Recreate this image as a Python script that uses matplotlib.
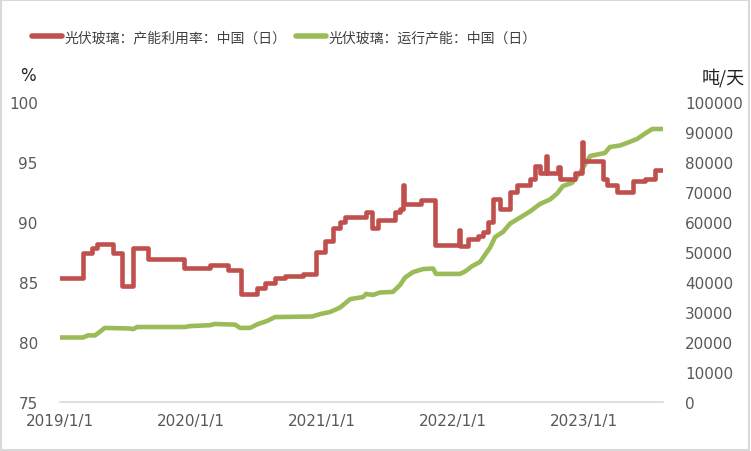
import matplotlib
matplotlib.use("Agg")
import matplotlib.pyplot as plt
import pandas as pd

plt.rcParams['font.family'] = ['DejaVu Sans', 'Noto Sans CJK SC']

# 光伏玻璃：产能利用率（%），阶梯数据
util_dates = ["2019-01-01", "2019-03-06", "2019-03-31", "2019-04-14", "2019-05-29",
              "2019-06-23", "2019-07-24", "2019-09-03", "2019-12-13", "2020-02-23",
              "2020-04-13", "2020-05-20", "2020-07-03", "2020-07-26", "2020-08-22",
              "2020-09-19", "2020-11-09", "2020-12-15", "2021-01-09", "2021-01-31",
              "2021-02-20", "2021-03-06", "2021-05-03", "2021-05-20", "2021-06-06",
              "2021-07-23", "2021-08-06", "2021-08-14", "2021-08-17", "2021-10-03",
              "2021-11-12", "2022-01-17", "2022-01-20", "2022-02-12", "2022-03-11",
              "2022-03-25", "2022-04-08", "2022-04-22", "2022-05-12", "2022-06-09",
              "2022-06-28", "2022-08-03", "2022-08-17", "2022-08-31", "2022-09-17",
              "2022-09-20", "2022-10-20", "2022-10-26", "2022-12-07", "2022-12-26",
              "2022-12-29", "2023-02-23", "2023-03-06", "2023-04-03", "2023-05-18",
              "2023-06-20", "2023-07-18", "2023-08-09"]
util_vals = [85.3, 87.4, 87.8, 88.2, 87.4,
             84.7, 87.8, 86.9, 86.2, 86.4,
             86.0, 84.0, 84.5, 84.9, 85.3,
             85.5, 85.7, 87.5, 88.4, 89.5,
             90.0, 90.4, 90.8, 89.5, 90.2,
             90.8, 91.1, 93.1, 91.5, 91.8,
             88.1, 89.3, 88.0, 88.6, 88.8,
             89.2, 90.0, 91.9, 91.1, 92.5,
             93.1, 93.6, 94.7, 94.1, 95.5,
             94.1, 94.6, 93.6, 94.1, 96.7,
             95.1, 93.6, 93.1, 92.5, 93.4,
             93.6, 94.3, 94.3]

# 光伏玻璃：运行产能（吨/天）
cap_dates = ["2019-01-01", "2019-03-06", "2019-03-20", "2019-04-09", "2019-04-23",
             "2019-05-06", "2019-07-15", "2019-07-24", "2019-08-04", "2019-12-16",
             "2019-12-29", "2020-02-23", "2020-03-08", "2020-05-03", "2020-05-17",
             "2020-06-14", "2020-07-06", "2020-07-31", "2020-08-22", "2020-12-04",
             "2020-12-26", "2021-01-23", "2021-02-20", "2021-03-20", "2021-04-25",
             "2021-05-03", "2021-05-23", "2021-06-11", "2021-07-17", "2021-08-06",
             "2021-08-20", "2021-09-11", "2021-10-09", "2021-11-06", "2021-11-14",
             "2022-01-20", "2022-02-03", "2022-02-23", "2022-03-17", "2022-04-14",
             "2022-04-28", "2022-05-20", "2022-06-09", "2022-07-07", "2022-08-03",
             "2022-08-31", "2022-09-28", "2022-10-18", "2022-11-03", "2022-11-28",
             "2022-12-21", "2023-01-18", "2023-02-15", "2023-02-28", "2023-03-14",
             "2023-04-11", "2023-05-04", "2023-05-29", "2023-06-20", "2023-07-10",
             "2023-08-09"]
cap_vals = [21500, 21500, 22200, 22200, 23500,
            24700, 24500, 24300, 25000, 25000,
            25300, 25600, 26000, 25800, 24700,
            24700, 26000, 27000, 28300, 28500,
            29300, 30000, 31500, 34300, 35000,
            36000, 35700, 36500, 36700, 39000,
            41500, 43300, 44300, 44500, 42700,
            42700, 43500, 45300, 46700, 51500,
            55000, 56700, 59500, 61500, 63500,
            66000, 67500, 69500, 72000, 73000,
            76500, 82000, 82700, 83000, 85000,
            85500, 86500, 87700, 89500, 91000,
            91000]

xtick_labels = ["2019/1/1", "2020/1/1", "2021/1/1", "2022/1/1", "2023/1/1"]

red = "#C0504D"
green = "#9BBB59"
grey = "#595959"
cjk = ["Noto Sans CJK SC", "DejaVu Sans"]

fig = plt.figure(figsize=(7.51, 4.52), dpi=100)
ax = fig.add_axes([60 / 751, 1 - 403 / 452, 603 / 751, 300 / 452])
ax2 = ax.twinx()

ud = pd.to_datetime(util_dates)
cd = pd.to_datetime(cap_dates)

l1, = ax.plot(ud, util_vals, color=red, lw=3.3, drawstyle="steps-post", zorder=3)
l2, = ax2.plot(cd, cap_vals, color=green, lw=3.3, zorder=2)
ax.set_zorder(ax2.get_zorder() + 1)
ax.patch.set_visible(False)

ax.set_ylim(75, 100)
ax.set_yticks(range(75, 101, 5))
ax2.set_ylim(0, 100000)
ax2.set_yticks(range(0, 100001, 10000))
ax.set_xlim(ud[0], ud[-1])
ax.set_xticks(pd.to_datetime([s.replace("/", "-") for s in xtick_labels]))
ax.set_xticklabels(xtick_labels)

for a in (ax, ax2):
    for s in a.spines.values():
        s.set_visible(False)
    a.tick_params(length=0, labelsize=11, colors=grey)
ax.spines["bottom"].set_visible(True)
ax.spines["bottom"].set_color("#D9D9D9")
ax.spines["bottom"].set_linewidth(1.2)
ax.tick_params(axis="y", pad=16)
ax2.tick_params(axis="y", pad=16)
ax.tick_params(axis="x", pad=8)

fig.text(20 / 751, 1 - 76 / 452, "%", fontsize=12, color="#222222",
         ha="left", va="center")
fig.text(745 / 751, 1 - 78 / 452, "吨/天", fontsize=13, color="#222222",
         ha="right", va="center", family=cjk)

leg = fig.legend([l1, l2], ["光伏玻璃：产能利用率：中国（日）", "光伏玻璃：运行产能：中国（日）"],
                 loc="center left", bbox_to_anchor=(19 / 751, 1 - 38 / 452),
                 ncol=2, frameon=False, handlelength=2.2, handletextpad=0.15,
                 columnspacing=0.7, prop={"family": cjk, "size": 10})
for t in leg.get_texts():
    t.set_color("#404040")
for h in leg.get_lines():
    h.set_linewidth(4)
    h.set_solid_capstyle("round")

fig.patches.append(plt.Rectangle((0.001, 0.002), 0.997, 0.995, transform=fig.transFigure,
                                 fill=False, edgecolor="#D9D9D9", lw=1.5))

fig.savefig("out.png", dpi=100, facecolor="white")
